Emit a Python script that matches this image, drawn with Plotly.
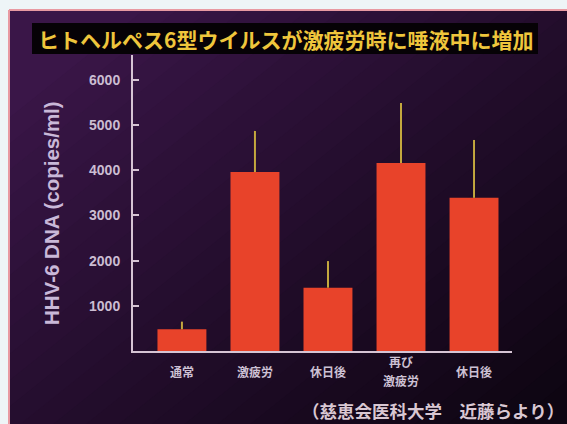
import plotly.graph_objects as go

# --- data -------------------------------------------------------------
categories = ["通常", "激疲労", "休日後", "再び<br>激疲労", "休日後"]
dna_copies = [480, 3960, 1400, 4160, 3390]
dna_error = [170, 910, 590, 1330, 1280]
y_ticks = [1000, 2000, 3000, 4000, 5000, 6000]

title_text = "ヒトヘルペス6型ウイルスが激疲労時に唾液中に増加"
y_title = "HHV-6 DNA (copies/ml)"
source_text = "（慈恵会医科大学　近藤らより）"

W, H = 567, 424


def px(x):
    return x / W


def py(y):
    return 1 - y / H


def lerp_color(c1, c2, t):
    a = [int(c1[i:i + 2], 16) for i in (1, 3, 5)]
    b = [int(c2[i:i + 2], 16) for i in (1, 3, 5)]
    return "#%02x%02x%02x" % tuple(round(a[i] + (b[i] - a[i]) * t) for i in range(3))


def clip_halfplane(poly, a, c):
    """Keep the part of poly where x + a*y >= c (pixel coords)."""
    out = []
    n = len(poly)
    for i in range(n):
        p, q = poly[i], poly[(i + 1) % n]
        fp = p[0] + a * p[1] - c
        fq = q[0] + a * q[1] - c
        if fp >= 0:
            out.append(p)
        if (fp >= 0) != (fq >= 0):
            t = fp / (fp - fq)
            out.append((p[0] + t * (q[0] - p[0]), p[1] + t * (q[1] - p[1])))
    return out


def path_from(poly):
    pts = [f"{px(x):.5f},{py(y):.5f}" for x, y in poly]
    return "M" + " L".join(pts) + " Z"


shapes = []

# slide backdrop with a diagonal purple-to-black shading
slide = [(9, 10), (W + 5, 10), (W + 5, H + 5), (9, H + 5)]
shapes.append(dict(type="path", xref="paper", yref="paper", path=path_from(slide),
                   fillcolor="#3a1648", line=dict(width=0), layer="below"))
a = 1.25
c_min, c_max = 9 + a * 10, W + a * H
steps = 28
for k in range(1, steps + 1):
    t = k / steps
    c = c_min + (c_max - c_min) * (0.1 + 0.9 * t) * 0.95
    poly = clip_halfplane(slide, a, c)
    if len(poly) >= 3:
        shapes.append(dict(type="path", xref="paper", yref="paper", path=path_from(poly),
                           fillcolor=lerp_color("#3a1648", "#0e0512", t ** 0.9),
                           line=dict(width=0), layer="below"))

# pink slide edge
shapes.append(dict(type="line", xref="paper", yref="paper", x0=px(9), x1=1.01,
                   y0=py(10), y1=py(10), line=dict(color="#e89aa2", width=2), layer="below"))
shapes.append(dict(type="line", xref="paper", yref="paper", x0=px(9), x1=px(9),
                   y0=py(10), y1=-0.01, line=dict(color="#e89aa2", width=2), layer="below"))

# title banner
shapes.append(dict(type="rect", xref="paper", yref="paper", x0=px(32), x1=px(538),
                   y0=py(54), y1=py(23), fillcolor="#060206", line=dict(width=0), layer="below"))

fig = go.Figure()
fig.add_trace(go.Bar(
    x=list(range(len(categories))),
    y=dna_copies,
    width=0.67,
    marker=dict(color="#e8432a", line=dict(width=0)),
    error_y=dict(type="data", symmetric=False, array=dna_error,
                 arrayminus=[0] * len(dna_error), color="#c4a83e",
                 thickness=2, width=0),
    hoverinfo="skip",
))

annotations = [
    dict(text=f"<b>{title_text}</b>", xref="paper", yref="paper", x=px(285), y=py(38.5),
         xanchor="center", yanchor="middle", showarrow=False,
         font=dict(family="Noto Sans CJK JP", size=21, color="#efc63c")),
    dict(text=f"<b>{y_title}</b>", xref="paper", yref="paper", x=px(51), y=py(213),
         xanchor="center", yanchor="middle", textangle=-90, showarrow=False,
         font=dict(family="Liberation Sans", size=20.5, color="#c9b8d8")),
    dict(text=f"<b>{source_text}</b>", xref="paper", yref="paper", x=px(566), y=py(410),
         xanchor="right", yanchor="middle", showarrow=False,
         font=dict(family="Noto Sans CJK JP", size=17.5, color="#d9c7d2")),
]

# category labels, each line placed separately so stacked labels stay centred
line_step = 19
for i, cat in enumerate(categories):
    lines = cat.split("<br>")
    first = 371 - line_step * (len(lines) - 1) / 2
    for j, ln in enumerate(lines):
        annotations.append(dict(
            text=f"<b>{ln}</b>", xref="x", yref="paper", x=i, y=py(first + j * line_step),
            xanchor="center", yanchor="middle", showarrow=False, borderpad=0,
            font=dict(family="Noto Sans CJK JP", size=12, color="#cdc1d4")))

fig.update_layout(
    width=W, height=H,
    margin=dict(l=0, r=0, t=0, b=0),
    paper_bgcolor="#eef5f7",
    plot_bgcolor="rgba(0,0,0,0)",
    showlegend=False,
    shapes=shapes,
    annotations=annotations,
    xaxis=dict(domain=[px(133), px(512)], range=[-0.67, 4.52],
               showline=True, linecolor="#d6c4d4", linewidth=2,
               showgrid=False, zeroline=False, showticklabels=False, ticks=""),
    yaxis=dict(domain=[py(351), py(55)], range=[0, 6550],
               tickvals=y_ticks, showline=True, linecolor="#d6c4d4", linewidth=2,
               ticks="inside", ticklen=6, tickwidth=1.5, tickcolor="#d6c4d4",
               ticklabelstandoff=8,
               tickfont=dict(family="Liberation Sans", size=14, color="#cbbdd2", weight="bold"),
               showgrid=False, zeroline=False),
)

fig.write_html("out.html")
